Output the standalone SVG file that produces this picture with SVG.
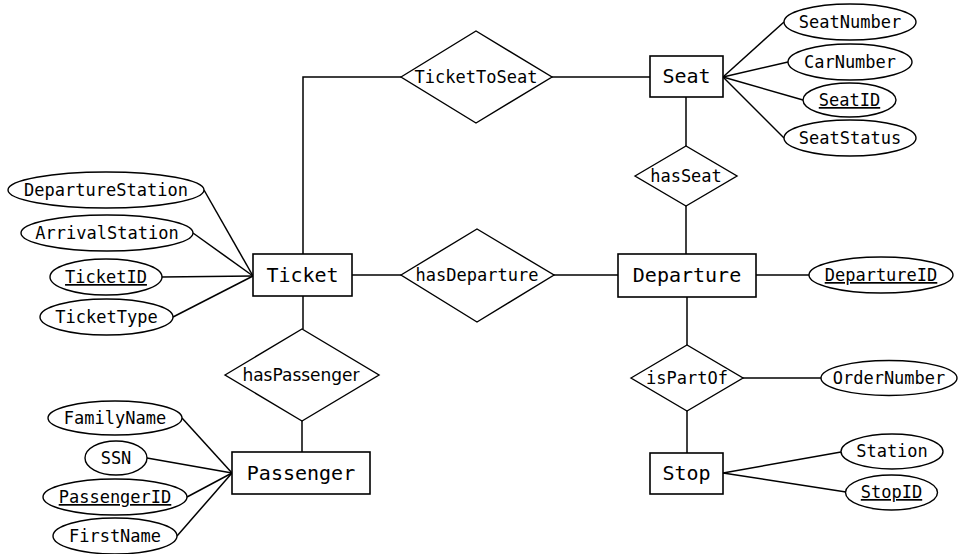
<svg xmlns="http://www.w3.org/2000/svg" width="960" height="554" viewBox="0 0 960 554">
  <style>
    .ent rect { fill: #fff; stroke: #000; stroke-width: 1.6; }
    .ent text { font-family: "DejaVu Sans Mono", monospace; font-size: 20px; text-anchor: middle; fill: #000; }
    .rel polygon { fill: #fff; stroke: #000; stroke-width: 1.4; }
    .rel text { font-family: "DejaVu Sans Mono", monospace; font-size: 17px; text-anchor: middle; fill: #000; }
    .rel text.prop { font-family: "DejaVu Sans", sans-serif; }
    .att ellipse { fill: #fff; stroke: #000; stroke-width: 1.4; }
    .att text { font-family: "DejaVu Sans Mono", monospace; font-size: 17px; text-anchor: middle; fill: #000; }
    .key text { text-decoration: underline; }
    #connectors { stroke: #000; stroke-width: 1.5; fill: none; }
  </style>
  <rect width="960" height="554" fill="#fff"/>

  <g id="connectors">
    <!-- relationship links -->
    <polyline points="303,254 303,77 401,77"/>
    <line x1="552" y1="77" x2="650" y2="77"/>
    <line x1="352" y1="275" x2="401" y2="275"/>
    <line x1="554" y1="275" x2="618" y2="275"/>
    <line x1="686" y1="97" x2="686" y2="146"/>
    <line x1="686" y1="206" x2="686" y2="254"/>
    <line x1="687" y1="297" x2="687" y2="345"/>
    <line x1="687" y1="411" x2="687" y2="453"/>
    <line x1="743" y1="378" x2="821" y2="378"/>
    <line x1="303" y1="296" x2="303" y2="329"/>
    <line x1="302" y1="421" x2="302" y2="452"/>
    <!-- attribute links -->
    <line x1="756" y1="275" x2="809" y2="275"/>
    <line x1="723" y1="77" x2="784" y2="22"/>
    <line x1="723" y1="77" x2="788" y2="62"/>
    <line x1="723" y1="77" x2="803" y2="100"/>
    <line x1="723" y1="77" x2="784" y2="138"/>
    <line x1="253" y1="276" x2="204" y2="190"/>
    <line x1="253" y1="276" x2="193" y2="233"/>
    <line x1="253" y1="276" x2="162" y2="277"/>
    <line x1="253" y1="276" x2="173" y2="317"/>
    <line x1="232" y1="473" x2="182" y2="418"/>
    <line x1="232" y1="473" x2="147" y2="458"/>
    <line x1="232" y1="473" x2="187" y2="497"/>
    <line x1="232" y1="473" x2="177" y2="536"/>
    <line x1="723" y1="473" x2="841" y2="452"/>
    <line x1="723" y1="473" x2="846" y2="492"/>
  </g>

  <!-- entities -->
  <g id="ticket" class="ent"><rect x="253" y="254" width="99" height="42"/><text x="302.5" y="282">Ticket</text></g>
  <g id="seat" class="ent"><rect x="650" y="56" width="73" height="41"/><text x="686.5" y="83">Seat</text></g>
  <g id="departure" class="ent"><rect x="618" y="254" width="138" height="43"/><text x="687" y="282">Departure</text></g>
  <g id="passenger" class="ent"><rect x="232" y="452" width="138" height="42"/><text x="301" y="480">Passenger</text></g>
  <g id="stop" class="ent"><rect x="650" y="453" width="73" height="41"/><text x="686.5" y="480">Stop</text></g>

  <!-- relationships -->
  <g id="ticketToSeat" class="rel"><polygon points="401,77 476,31 552,77 476,123"/><text x="476" y="83">TicketToSeat</text></g>
  <g id="hasDeparture" class="rel"><polygon points="401,275 477,229 554,275 477,322"/><text x="477" y="281">hasDeparture</text></g>
  <g id="hasSeat" class="rel"><polygon points="635,176 686,146 737,176 686,206"/><text x="686" y="182">hasSeat</text></g>
  <g id="isPartOf" class="rel"><polygon points="631,378 687,345 743,378 687,411"/><text x="687" y="384">isPartOf</text></g>
  <g id="hasPassenger" class="rel"><polygon points="225,375 302,329 379,375 302,421"/><text class="prop" x="301" y="381">hasPassenger</text></g>

  <!-- Ticket attributes -->
  <g id="departureStation" class="att"><ellipse cx="106" cy="190" rx="98" ry="18"/><text x="106" y="196">DepartureStation</text></g>
  <g id="arrivalStation" class="att"><ellipse cx="107" cy="233" rx="86" ry="18"/><text x="107" y="239">ArrivalStation</text></g>
  <g id="ticketID" class="att key"><ellipse cx="106" cy="277" rx="56" ry="18"/><text x="106" y="283">TicketID</text></g>
  <g id="ticketType" class="att"><ellipse cx="106.5" cy="317" rx="66.5" ry="18"/><text x="106.5" y="323">TicketType</text></g>

  <!-- Seat attributes -->
  <g id="seatNumber" class="att"><ellipse cx="850" cy="22" rx="66" ry="18"/><text x="850" y="28">SeatNumber</text></g>
  <g id="carNumber" class="att"><ellipse cx="850" cy="62" rx="62" ry="18"/><text x="850" y="68">CarNumber</text></g>
  <g id="seatID" class="att key"><ellipse cx="849.5" cy="100" rx="46.5" ry="17"/><text x="849.5" y="106">SeatID</text></g>
  <g id="seatStatus" class="att"><ellipse cx="850" cy="138" rx="66" ry="18"/><text x="850" y="144">SeatStatus</text></g>

  <!-- Departure / isPartOf / Stop attributes -->
  <g id="departureID" class="att key"><ellipse cx="881" cy="275" rx="72" ry="18"/><text x="881" y="281">DepartureID</text></g>
  <g id="orderNumber" class="att"><ellipse cx="889" cy="378" rx="68" ry="17.5"/><text x="889" y="384">OrderNumber</text></g>
  <g id="station" class="att"><ellipse cx="892" cy="451.5" rx="51" ry="17.5"/><text x="892" y="457">Station</text></g>
  <g id="stopID" class="att key"><ellipse cx="891.5" cy="492.5" rx="46" ry="17.5"/><text x="891.5" y="498">StopID</text></g>

  <!-- Passenger attributes -->
  <g id="familyName" class="att"><ellipse cx="115" cy="418" rx="67" ry="17"/><text x="115" y="424">FamilyName</text></g>
  <g id="ssn" class="att"><ellipse cx="116" cy="458" rx="31" ry="17"/><text x="116" y="464">SSN</text></g>
  <g id="passengerID" class="att key"><ellipse cx="115" cy="497" rx="72" ry="18"/><text x="115" y="503">PassengerID</text></g>
  <g id="firstName" class="att"><ellipse cx="115" cy="536" rx="62" ry="18"/><text x="115" y="542">FirstName</text></g>
</svg>
